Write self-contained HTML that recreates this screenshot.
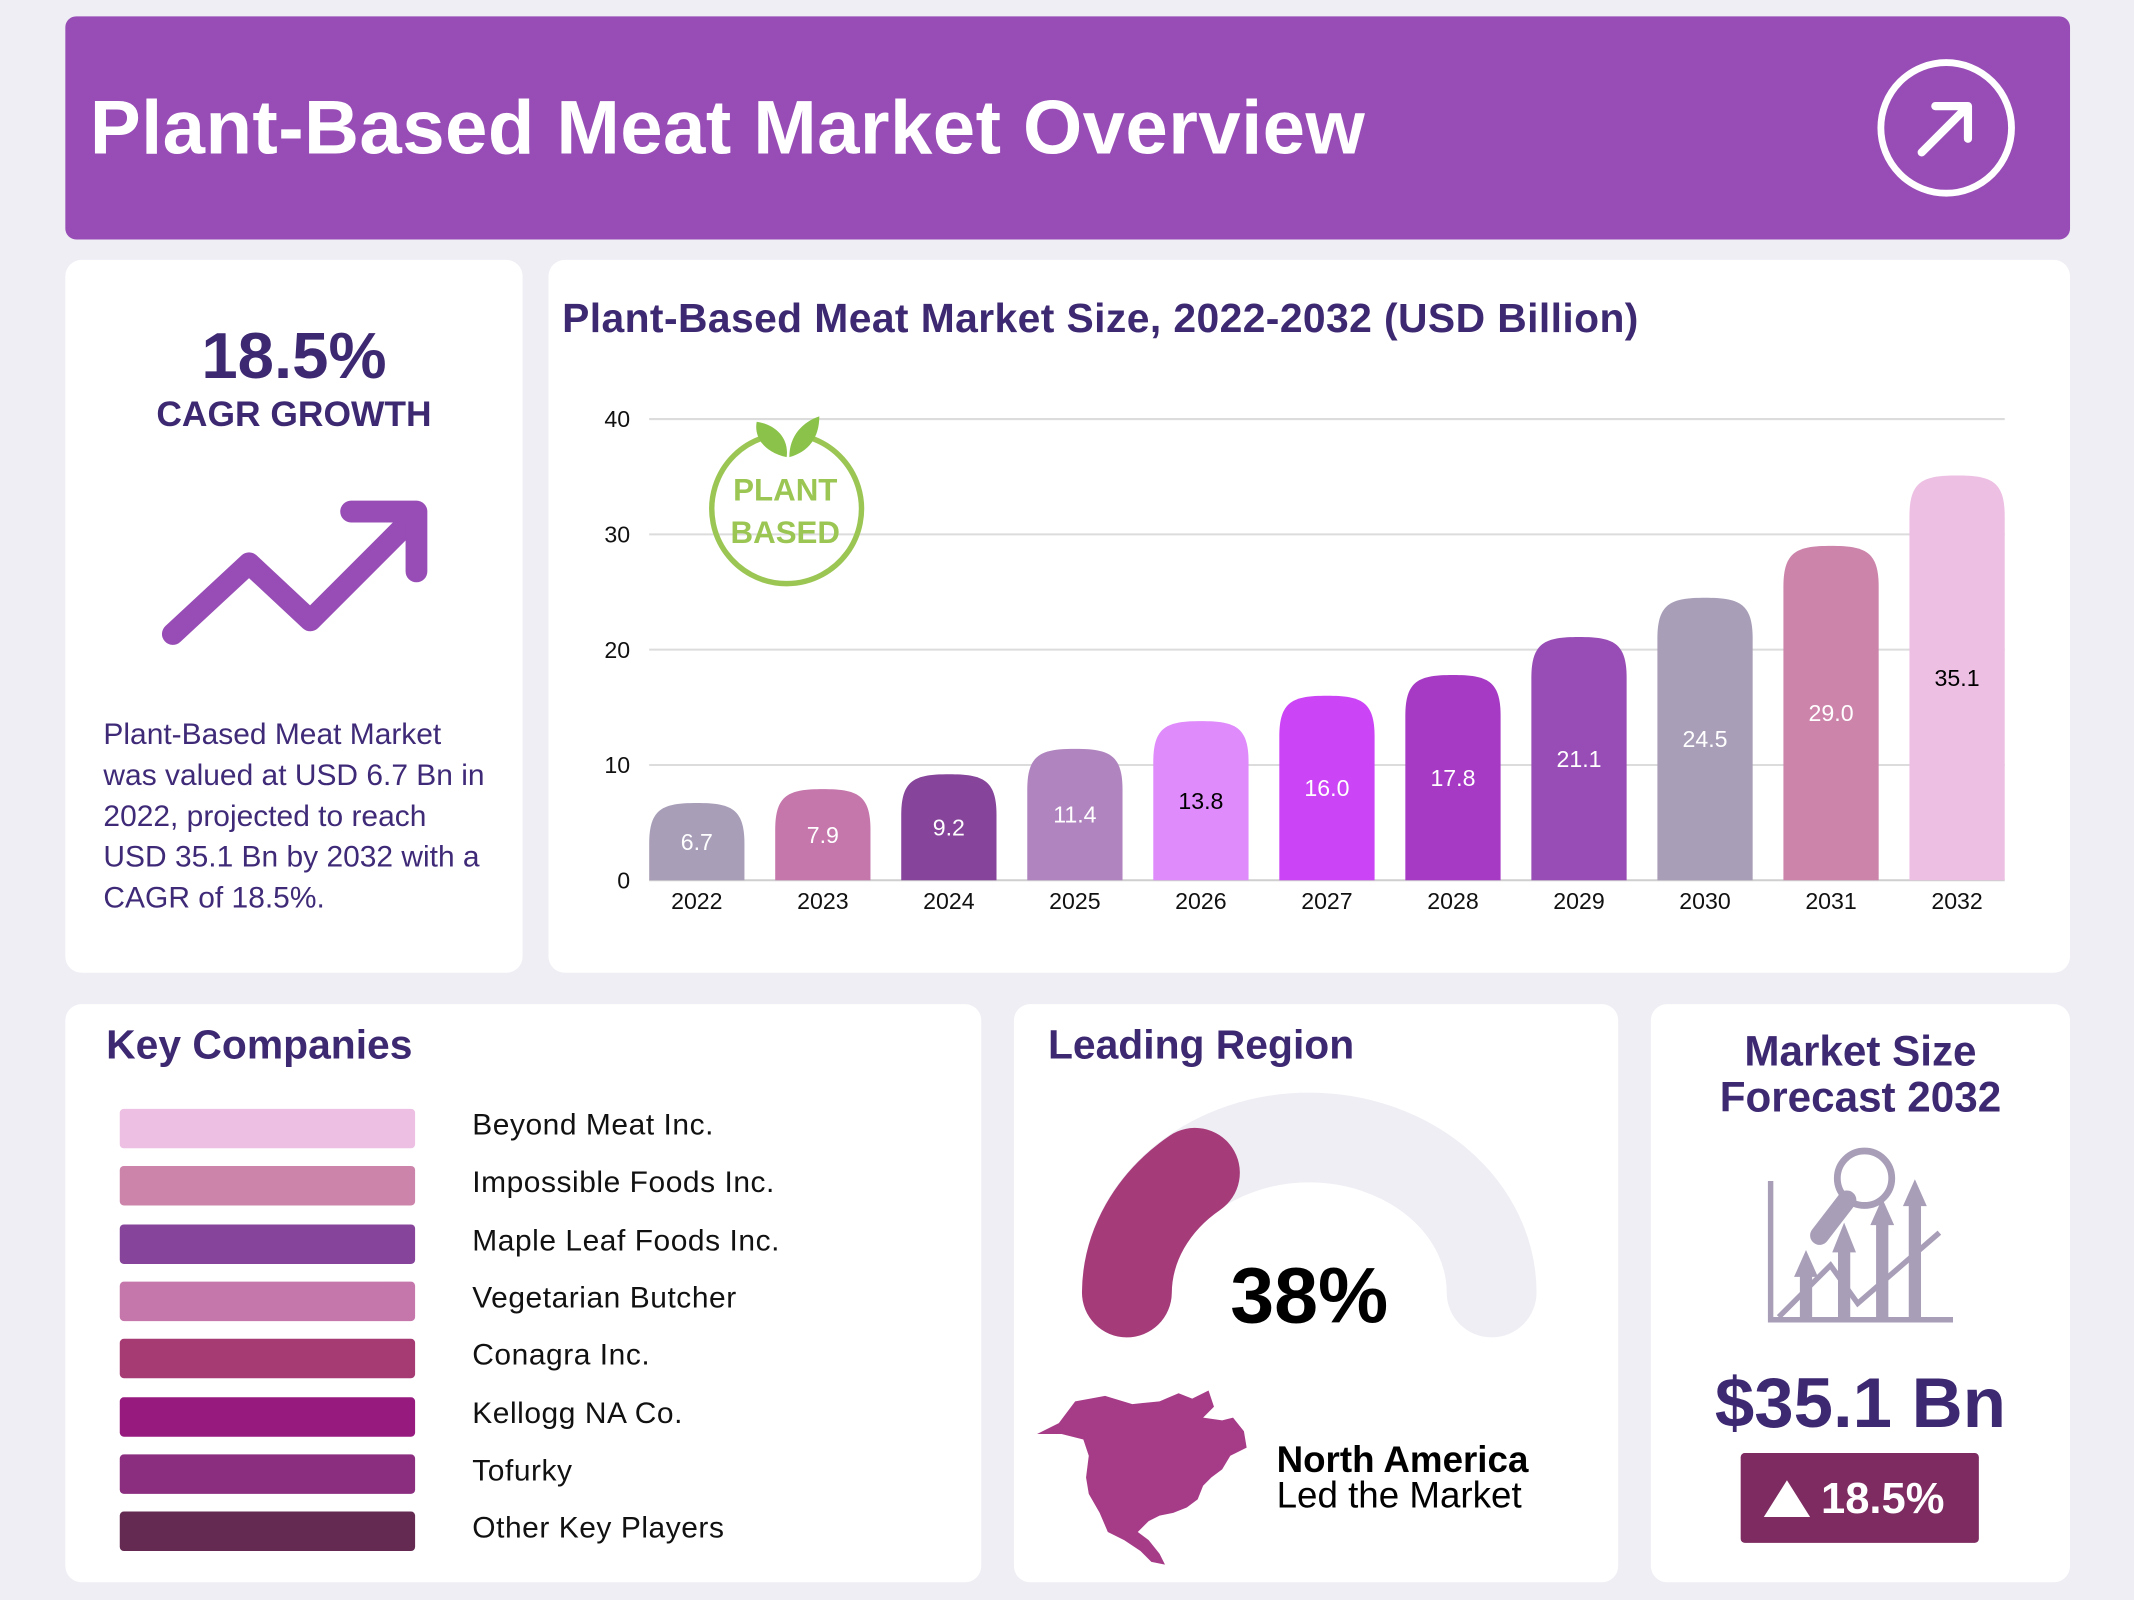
<!DOCTYPE html>
<html><head><meta charset="utf-8">
<style>
html,body{margin:0;padding:0;width:2134px;height:1600px;overflow:hidden;background:#efeef4;}
#wrap{position:absolute;left:0;top:0;width:1568px;height:1176px;transform-origin:0 0;transform:scale(1.36097,1.36054);font-family:"Liberation Sans",sans-serif;}
.card{position:absolute;background:#fff;border-radius:12px;}
.abs{position:absolute;}
.dk{color:#3d2872;}
</style></head><body>
<div id="wrap">
 <div class="abs" style="left:48px;top:12px;width:1473px;height:164px;background:#974db5;border-radius:8px;">
  <div class="abs" style="left:18px;top:49px;font-size:56px;letter-spacing:0.3px;font-weight:bold;color:#fff;white-space:nowrap;">Plant-Based Meat Market Overview</div>
  <svg class="abs" style="left:1330px;top:30px" width="104" height="104">
   <circle cx="52" cy="52" r="48" fill="none" stroke="#fff" stroke-width="5"/>
   <path d="M34 70 L68 36 M44 36 H68 V60" fill="none" stroke="#fff" stroke-width="6" stroke-linecap="round" stroke-linejoin="round"/>
  </svg>
 </div>

 <div class="card" style="left:48px;top:191px;width:336px;height:524px;">
  <div class="abs dk" style="left:0;width:336px;top:44px;text-align:center;font-size:48px;font-weight:bold;">18.5%</div>
  <div class="abs dk" style="left:0;width:336px;top:98px;text-align:center;font-size:26px;font-weight:bold;">CAGR GROWTH</div>
  <svg class="abs" style="left:60px;top:165px" width="220" height="130">
   <path d="M19 110 L75 58 L120 100 L186 34" fill="none" stroke="#974db5" stroke-width="16" stroke-linecap="round" stroke-linejoin="round"/>
   <path d="M150 20 L198 20 L198 64" fill="none" stroke="#974db5" stroke-width="16" stroke-linecap="round" stroke-linejoin="round"/>
  </svg>
  <div class="abs" style="left:28px;top:334px;width:284px;font-size:22px;line-height:30px;color:#3f2a78;">Plant-Based Meat Market was valued at USD 6.7 Bn in 2022, projected to reach USD 35.1 Bn by 2032 with a CAGR of 18.5%.</div>
 </div>

 <div class="card" style="left:403px;top:191px;width:1118px;height:524px;">
  <div class="abs dk" style="left:10px;top:27px;font-size:30px;letter-spacing:0.3px;font-weight:bold;white-space:nowrap;">Plant-Based Meat Market Size, 2022-2032 (USD Billion)</div>
 </div>
 <svg id="chart" class="abs" style="left:0;top:0" width="1568" height="720"></svg>

 <div class="card" style="left:48px;top:738px;width:673px;height:425px;">
  <div class="abs dk" style="left:30px;top:14px;font-size:30px;font-weight:bold;">Key Companies</div>
  <div id="complist"></div>
 </div>

 <div class="card" style="left:745px;top:738px;width:444px;height:425px;">
  <div class="abs dk" style="left:25px;top:14px;font-size:30px;font-weight:bold;">Leading Region</div>
 </div>
 <svg class="abs" style="left:0;top:0" width="1568" height="1176">
  <path d="M828 950 A134 114 0 0 1 1096 950" fill="none" stroke="#efeef4" stroke-width="66" stroke-linecap="round"/>
  <path d="M828 950 A134 114 0 0 1 878 862" fill="none" stroke="#a63b7a" stroke-width="66" stroke-linecap="round"/>
  <text x="962" y="972" text-anchor="middle" font-size="58" font-weight="bold" font-family="Liberation Sans" fill="#000">38%</text>
  <path d="M762 1054 L778 1046 L790 1030 L812 1026 L832 1032 L852 1030 L866 1024 L876 1028 L888 1022 L892 1034 L884 1042 L898 1044 L906 1042 L914 1052 L916 1064 L904 1070 L898 1080 L890 1086 L884 1092 L880 1102 L872 1108 L862 1112 L852 1114 L844 1118 L836 1126 L844 1132 L852 1142 L856 1150 L846 1148 L838 1140 L826 1132 L814 1126 L808 1112 L800 1098 L798 1086 L800 1070 L796 1058 L780 1054 Z" fill="#a63b88"/>
  <text x="938" y="1082" font-size="27" font-weight="bold" font-family="Liberation Sans" fill="#000">North America</text>
  <text x="938" y="1108" font-size="27" font-family="Liberation Sans" fill="#000">Led the Market</text>
 </svg>

 <div class="card" style="left:1213px;top:738px;width:308px;height:425px;">
  <div class="abs dk" style="left:0;width:308px;top:18px;text-align:center;font-size:31px;font-weight:bold;line-height:34px;">Market Size<br>Forecast 2032</div>
  <svg class="abs" style="left:80px;top:100px" width="150" height="140">
   <g fill="#a89eb8" stroke="#a89eb8">
    <path d="M8 30 V132 H142" fill="none" stroke-width="4"/>
    <circle cx="77" cy="28" r="20" fill="none" stroke-width="5"/>
    <path d="M64 44 L44 70" stroke-width="14" stroke-linecap="round"/>
    <rect x="30" y="98" width="8" height="34"/><path d="M26 100 L34 82 L42 100Z"/>
    <rect x="58" y="80" width="8" height="52"/><path d="M54 82 L62 62 L70 82Z"/>
    <rect x="86" y="60" width="8" height="72"/><path d="M82 62 L90 44 L98 62Z"/>
    <rect x="110" y="46" width="8" height="86"/><path d="M106 48 L114 30 L122 48Z"/>
    <path d="M14 130 L52 92 L72 120 L132 68" fill="none" stroke-width="4"/>
   </g>
  </svg>
  <div class="abs dk" style="left:0;width:308px;top:264px;text-align:center;font-size:52px;font-weight:bold;">$35.1 Bn</div>
  <div class="abs" style="left:66px;top:330px;width:175px;height:66px;background:#7d2b60;border-radius:3px;color:#fff;font-size:32px;font-weight:bold;line-height:66px;">
   <svg class="abs" style="left:16px;top:20px" width="36" height="28"><path d="M18 0 L35 27 L1 27Z" fill="#fff"/></svg>
   <span class="abs" style="left:59px;top:0">18.5%</span>
  </div>
 </div>
</div>
<script>
const years=["2022","2023","2024","2025","2026","2027","2028","2029","2030","2031","2032"];
const values=[6.7,7.9,9.2,11.4,13.8,16.0,17.8,21.1,24.5,29.0,35.1];
const valueLabels=["6.7","7.9","9.2","11.4","13.8","16.0","17.8","21.1","24.5","29.0","35.1"];
const yTicks=[0,10,20,30,40];
const barColors=["#a89eb8","#c576ab","#86459a","#b085bf","#df8bfb","#cb44f5","#a63ac4","#974db5","#a89eb8","#cc84ab","#ecbfe3"];
const labelColors=["#fff","#fff","#fff","#fff","#000","#fff","#fff","#fff","#fff","#fff","#000"];
const companies=["Beyond Meat Inc.","Impossible Foods Inc.","Maple Leaf Foods Inc.","Vegetarian Butcher","Conagra Inc.","Kellogg NA Co.","Tofurky","Other Key Players"];
const companyColors=["#ecbfe3","#cc84ab","#86459a","#c576ab","#a63b74","#971a7f","#8b2e80","#652a51"];

const NS="http://www.w3.org/2000/svg";
const svg=document.getElementById('chart');
const X0=477,X1=1473,Y0=647,YT=308,YMAX=40;
const bw=70;
const step=(X1-X0-bw)/(years.length-1);
function ys(v){return Y0-(v/YMAX)*(Y0-YT);}
function xc(i){return X0+bw/2+step*i;}
function mk(t,a){const e=document.createElementNS(NS,t);for(const k in a)e.setAttribute(k,a[k]);svg.appendChild(e);return e;}
yTicks.forEach(t=>{
 const g=mk('line',{x1:X0,x2:X1,y1:ys(t),y2:ys(t),stroke:t===0?'#cfcfcf':'#dcdcdc','stroke-width':1.5});
 
 
 const tx=mk('text',{x:463,y:ys(t)+6,'text-anchor':'end','font-size':17,'font-family':'Liberation Sans',fill:'#111'});
 tx.textContent=t;
 
 
});
const logo=mk('g',{});


logo.innerHTML='<path d="M560 322 A55 55 0 1 0 596 322" fill="none" stroke="#9bc654" stroke-width="4"/><path d="M578 336 C560 332 554 320 556 310 C570 312 580 322 578 336Z M580 336 C580 320 590 310 602 306 C602 322 594 332 580 336Z" fill="#8bc34a"/><text x="577" y="368" text-anchor="middle" font-size="23" font-weight="bold" font-family="Liberation Sans" fill="#9bc654">PLANT</text><text x="577" y="399" text-anchor="middle" font-size="23" font-weight="bold" font-family="Liberation Sans" fill="#9bc654">BASED</text>';
values.forEach((v,i)=>{
 const cx=xc(i),top=ys(v),l=cx-bw/2,r=cx+bw/2;
 const ry=Math.min(30,(Y0-top));
 const p=mk('path',{d:`M${l} ${Y0} V${top+ry} C${l} ${top+4} ${l+10} ${top} ${cx} ${top} C${r-10} ${top} ${r} ${top+4} ${r} ${top+ry} V${Y0} Z`,fill:barColors[i]});
 
 
 const t=mk('text',{x:cx,y:(top+Y0)/2+6,'text-anchor':'middle','font-size':17,'font-family':'Liberation Sans',fill:labelColors[i]});
 t.textContent=valueLabels[i];
 
 
 const y=mk('text',{x:cx,y:668,'text-anchor':'middle','font-size':17,'font-family':'Liberation Sans',fill:'#111'});
 y.textContent=years[i];
 
 
});
const cl=document.getElementById('complist');
companies.forEach((c,i)=>{
 const s=document.createElement('div');
 
 
 s.style.cssText=`position:absolute;left:40px;top:${77+i*42.3}px;width:217px;height:29px;border-radius:3px;background:${companyColors[i]}`;
 cl.appendChild(s);
 const t=document.createElement('div');
 
 
 t.style.cssText=`position:absolute;left:299px;top:${76+i*42.3}px;font-size:22px;letter-spacing:0.4px;color:#111;white-space:nowrap`;
 t.textContent=c;
 cl.appendChild(t);
});
</script>
</body></html>
